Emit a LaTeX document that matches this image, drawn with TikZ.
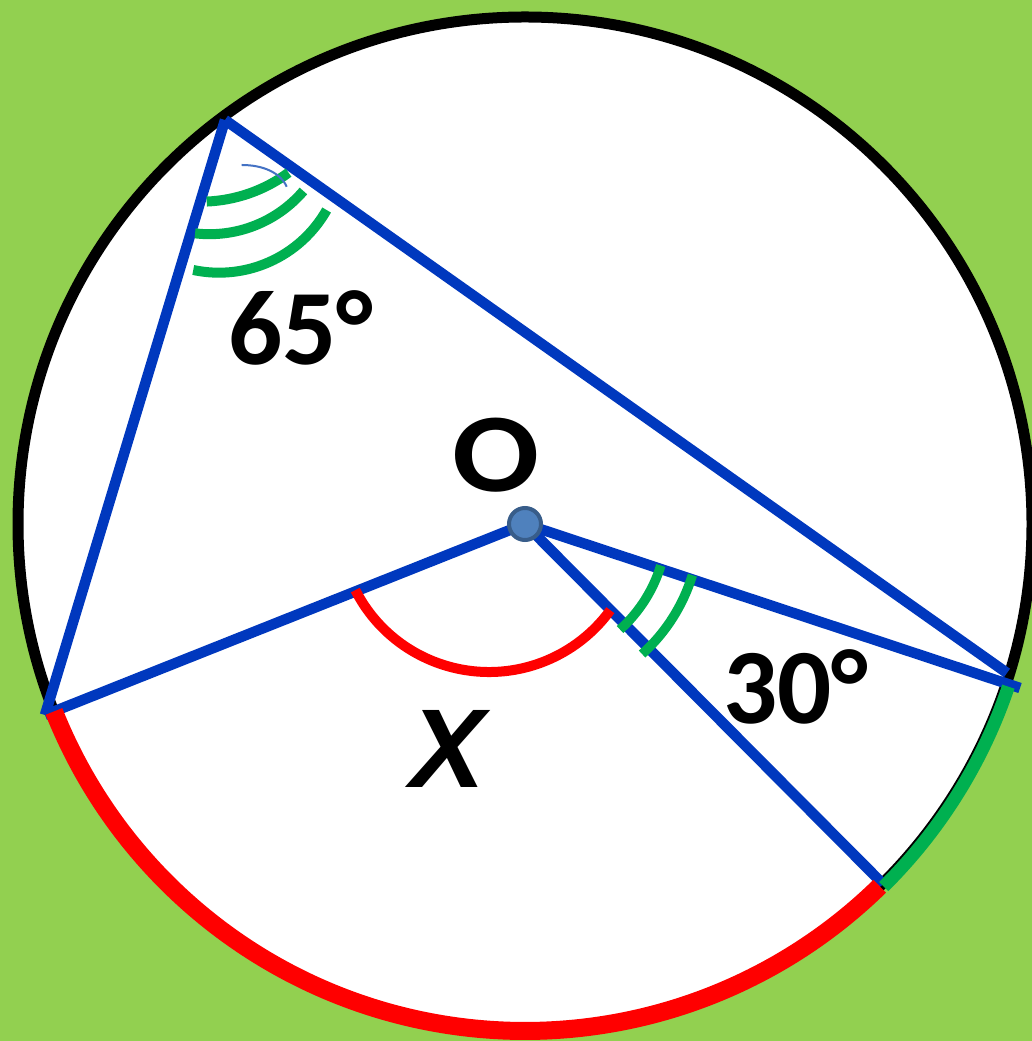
\documentclass[tikz,border=0pt]{standalone}
\usepackage{fontspec}
\newfontfamily\carlito{Carlito}
\newfontfamily\libsans{Liberation Sans}
\definecolor{bgreen}{HTML}{92D050}
\definecolor{lblue}{HTML}{0038BE}
\definecolor{mgreen}{HTML}{00B050}
\definecolor{mred}{HTML}{FF0000}
\definecolor{dotfill}{HTML}{4F81BD}
\definecolor{dotline}{HTML}{385D8A}
\definecolor{thinblue}{HTML}{4472C4}
\tikzset{
  chord/.style={draw=lblue, line width=10.5},
  redarc/.style={draw=mred, line width=18},
  greenarc/.style={draw=mgreen, line width=13},
  anglered/.style={draw=mred, line width=10},
  anglegreen/.style={draw=mgreen, line width=9.5},
  lbl/.style={inner sep=0, text=black},
}
\begin{document}
\begin{tikzpicture}[x=1pt,y=1pt]
\fill[bgreen] (0,0) rectangle (1032,1041);
\useasboundingbox (0,0) rectangle (1032,1041);

\coordinate (ctr) at (525,517);
\coordinate (O) at (525,517);
\coordinate (A) at (225,921);
\coordinate (B) at (45,326);
\coordinate (C1) at (1007,368);
\coordinate (C2) at (1020,353);
\coordinate (D) at (883,157);

% circle
\draw[line width=11, fill=white] (ctr) circle[radius=507];

% chords and radii
\draw[chord] (A) -- (B);
\draw[chord] (A) -- (C1);
\draw[chord] (O) -- (B);
\draw[chord] (O) -- (C2);
\draw[chord] (O) -- (D);

% arcs on the circle
\draw[redarc] ([shift={(201.7:507)}]ctr) arc[start angle=201.7, end angle=314.4, radius=507];
\draw[greenarc] ([shift={(-18.6:510)}]ctr) arc[start angle=-18.6, end angle=-45.3, radius=510];

% angle x at O
\coordinate (xc) at (489,519);
\draw[anglered] ([shift={(207:150)}]xc) arc[start angle=207, end angle=324, radius=150];

% double arcs at O (30 deg)
\draw[anglegreen] ([shift={(-48:142)}]O) arc[start angle=-48, end angle=-17, radius=142];
\draw[anglegreen] ([shift={(-48:175)}]O) arc[start angle=-48, end angle=-17, radius=175];

% triple arcs at A (65 deg)
\coordinate (a1) at (200.5,987.3);
\coordinate (a2) at (209.5,930.5);
\coordinate (a3) at (219,892.1);
\draw[anglegreen, line width=10] ([shift={(272.4:148)}]a1) arc[start angle=272.4, end angle=306.5, radius=148];
\draw[anglegreen, line width=10] ([shift={(263.3:123.7)}]a2) arc[start angle=263.3, end angle=319.4, radius=123.7];
\draw[anglegreen, line width=10] ([shift={(258:123.8)}]a3) arc[start angle=258, end angle=330.4, radius=123.8];

% thin blue arc
\coordinate (t1) at (241.7,876);
\coordinate (t2) at (286.7,854.3);
\draw[thinblue, line width=2] (t1) .. controls (262,876) and (280,869) .. (t2);

% centre dot
\node[circle, fill=dotfill, draw=dotline, line width=4, minimum size=32, inner sep=0] (dot) at (O) {};

% labels
\node[lbl, anchor=base west, font=\carlito\bfseries\fontsize{107}{107}\selectfont] (t65) at (228,676) {65°};
\node[lbl, anchor=base west, font=\carlito\bfseries\fontsize{107}{107}\selectfont] (t30) at (723,317) {30°};
\node[lbl, anchor=base, xscale=1.15, font=\carlito\bfseries\fontsize{112}{112}\selectfont] (tO) at (496,549) {O};
\node[lbl, anchor=base, font=\libsans\bfseries\itshape\fontsize{112}{112}\selectfont] (tX) at (448,253) {X};
\end{tikzpicture}
\end{document}
